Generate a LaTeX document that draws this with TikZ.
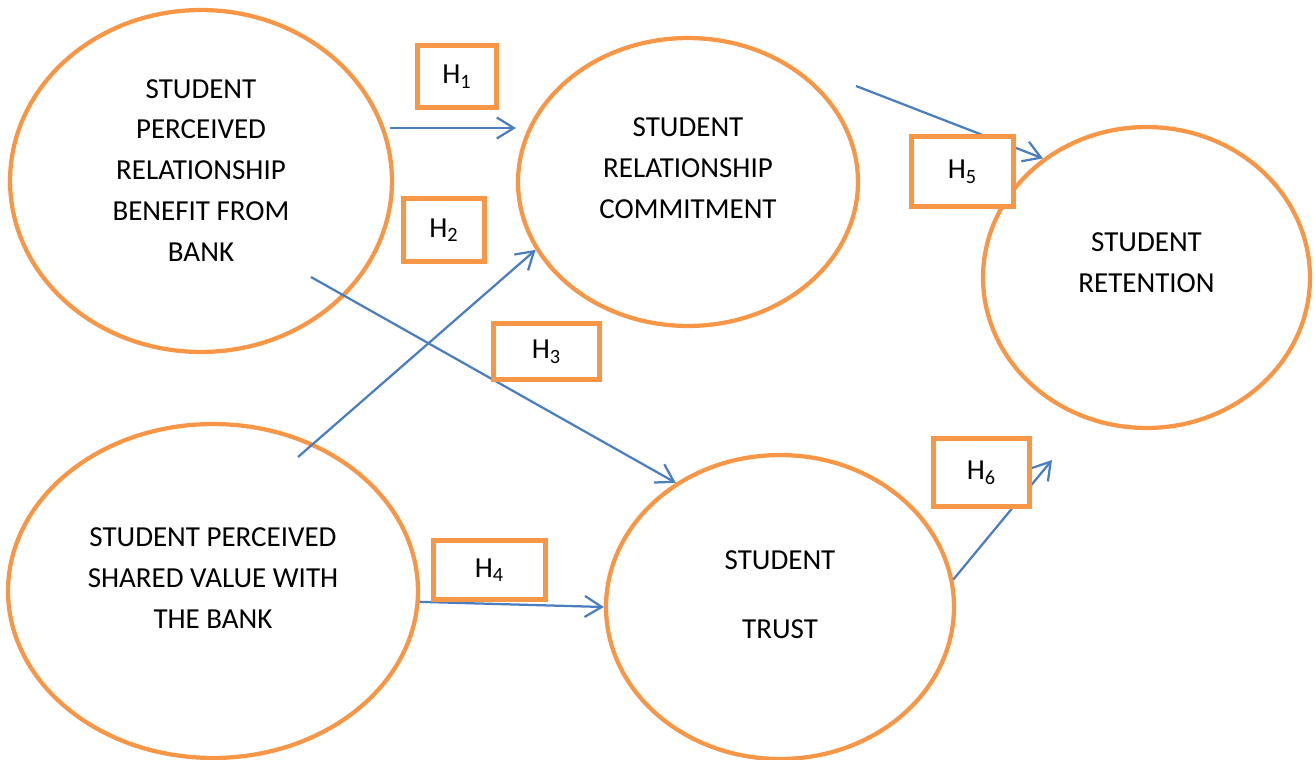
\documentclass[tikz,border=0pt]{standalone}
\usepackage{fontspec}
\setmainfont{Carlito}
\usetikzlibrary{shapes.geometric,arrows.meta,positioning,calc}
\definecolor{factorline}{HTML}{F79646}
\definecolor{pathblue}{HTML}{4A7EBF}

\begin{document}
\begin{tikzpicture}[
    x=0.02cm, y=-0.02cm,
    factor/.style={ellipse, draw=factorline, line width=0.085cm, inner sep=0pt},
    factortext/.style={font=\fontsize{16.5}{23.3}\selectfont, align=center, inner sep=0pt},
    hyp/.style={rectangle, draw=factorline, fill=white, line width=0.1cm, inner sep=0pt, font=\fontsize{16.5}{20}\selectfont},
    arrow/.style={-{Straight Barb[length=3.4mm,width=4.2mm]}, pathblue, line width=0.045cm}
]
    \useasboundingbox (0,0) rectangle (1315,760);

    % Factors
    \node[factor, minimum width=7.64cm, minimum height=6.84cm] (benefit) at (201,181) {};
    \node[factor, minimum width=6.8cm, minimum height=5.76cm] (commit) at (688,182) {};
    \node[factor, minimum width=6.54cm, minimum height=6.02cm] (retain) at (1146.5,277.5) {};
    \node[factor, minimum width=8.2cm, minimum height=6.68cm] (shared) at (213,591) {};
    \node[factor, minimum width=6.96cm, minimum height=6.08cm] (trust) at (780,607) {};

    \node[factortext] (benefittxt) at ([yshift=0.21cm]benefit.center) {STUDENT\\PERCEIVED\\RELATIONSHIP\\BENEFIT FROM\\BANK};
    \node[factortext] (committxt) at ([yshift=0.28cm]commit.center) {STUDENT\\RELATIONSHIP\\COMMITMENT};
    \node[factortext] (retaintxt) at ([yshift=0.3cm]retain.center) {STUDENT\\RETENTION};
    \node[factortext] (sharedtxt) at ([yshift=0.26cm]shared.center) {STUDENT PERCEIVED\\SHARED VALUE WITH\\THE BANK};
    \node[factortext] (trusttxt) at ([yshift=0.25cm]trust.center) {STUDENT\\[0.56cm]TRUST};

    % Hypothesis paths
    \coordinate (h1from) at (390,128);
    \coordinate (h2from) at (298,457);
    \coordinate (h3from) at (311,277);
    \coordinate (h5from) at (856,86);
    \coordinate (h6to) at (1052,460);

    \draw[arrow] (h1from) -- (h1from -| commit.west);
    \draw[arrow] (h2from) -- (commit.204);
    \draw[arrow] (h3from) -- (trust.130);
    \draw[arrow] (shared.-3) -- (trust.west);
    \draw[arrow] (h5from) -- (retain.131);
    \draw[arrow] (trust.9) -- (h6to);

    % Hypothesis labels
    \node[hyp, minimum width=1.58cm, minimum height=1.24cm] (h1) at (457,76.5) {H\textsubscript{1}};
    \node[hyp, minimum width=1.62cm, minimum height=1.26cm] (h2) at (444,230) {H\textsubscript{2}};
    \node[hyp, minimum width=2.12cm, minimum height=1.12cm] (h3) at (546.5,351.5) {H\textsubscript{3}};
    \node[hyp, minimum width=2.24cm, minimum height=1.18cm] (h4) at (489.5,570) {H\textsubscript{4}};
    \node[hyp, minimum width=2.04cm, minimum height=1.4cm] (h5) at (962.5,171.5) {H\textsubscript{5}};
    \node[hyp, minimum width=1.92cm, minimum height=1.36cm] (h6) at (981.5,472.5) {H\textsubscript{6}};
\end{tikzpicture}
\end{document}
